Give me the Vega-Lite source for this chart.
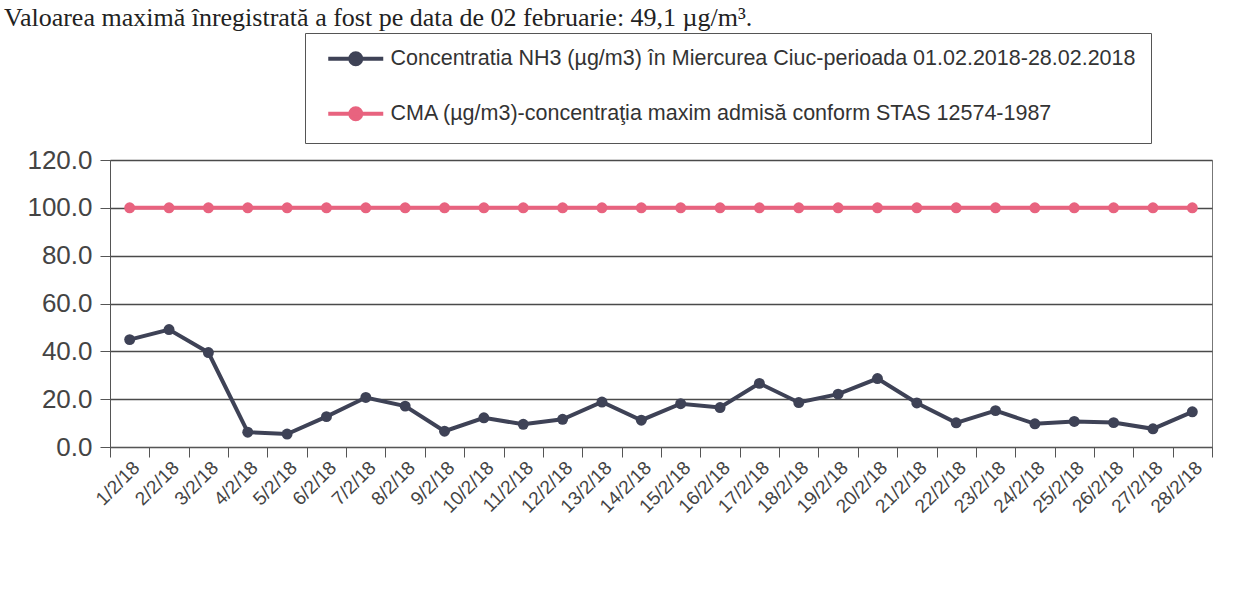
{
  "$schema": "https://vega.github.io/schema/vega-lite/v6.json",
  "width": 1102,
  "height": 287,
  "autosize": {"type": "none"},
  "padding": {"left": 110, "top": 160, "right": 45, "bottom": 142},
  "background": "white",
  "title": {
    "text": "Valoarea maximă înregistrată a fost pe data de 02 februarie: 49,1 µg/m³.",
    "font": "Liberation Serif",
    "fontSize": 26,
    "fontWeight": "normal",
    "color": "#222",
    "anchor": "start",
    "frame": "group",
    "baseline": "alphabetic",
    "offset": 0,
    "dx": -106,
    "dy": 19
  },
  "config": {
    "view": {"stroke": "#777", "strokeWidth": 1},
    "font": "Liberation Sans"
  },
  "data": {
    "values": [
      {"d": "1/2/18", "s": "NH3", "v": 44.9},
      {"d": "2/2/18", "s": "NH3", "v": 49.1},
      {"d": "3/2/18", "s": "NH3", "v": 39.5},
      {"d": "4/2/18", "s": "NH3", "v": 6.2},
      {"d": "5/2/18", "s": "NH3", "v": 5.4},
      {"d": "6/2/18", "s": "NH3", "v": 12.7},
      {"d": "7/2/18", "s": "NH3", "v": 20.7},
      {"d": "8/2/18", "s": "NH3", "v": 17.1},
      {"d": "9/2/18", "s": "NH3", "v": 6.6},
      {"d": "10/2/18", "s": "NH3", "v": 12.2},
      {"d": "11/2/18", "s": "NH3", "v": 9.5},
      {"d": "12/2/18", "s": "NH3", "v": 11.6},
      {"d": "13/2/18", "s": "NH3", "v": 18.8},
      {"d": "14/2/18", "s": "NH3", "v": 11.2},
      {"d": "15/2/18", "s": "NH3", "v": 18.1},
      {"d": "16/2/18", "s": "NH3", "v": 16.5},
      {"d": "17/2/18", "s": "NH3", "v": 26.6},
      {"d": "18/2/18", "s": "NH3", "v": 18.6},
      {"d": "19/2/18", "s": "NH3", "v": 22.1},
      {"d": "20/2/18", "s": "NH3", "v": 28.6},
      {"d": "21/2/18", "s": "NH3", "v": 18.4},
      {"d": "22/2/18", "s": "NH3", "v": 10.1},
      {"d": "23/2/18", "s": "NH3", "v": 15.2},
      {"d": "24/2/18", "s": "NH3", "v": 9.7},
      {"d": "25/2/18", "s": "NH3", "v": 10.7},
      {"d": "26/2/18", "s": "NH3", "v": 10.2},
      {"d": "27/2/18", "s": "NH3", "v": 7.6},
      {"d": "28/2/18", "s": "NH3", "v": 14.7},
      {"d": "1/2/18", "s": "CMA", "v": 100},
      {"d": "2/2/18", "s": "CMA", "v": 100},
      {"d": "3/2/18", "s": "CMA", "v": 100},
      {"d": "4/2/18", "s": "CMA", "v": 100},
      {"d": "5/2/18", "s": "CMA", "v": 100},
      {"d": "6/2/18", "s": "CMA", "v": 100},
      {"d": "7/2/18", "s": "CMA", "v": 100},
      {"d": "8/2/18", "s": "CMA", "v": 100},
      {"d": "9/2/18", "s": "CMA", "v": 100},
      {"d": "10/2/18", "s": "CMA", "v": 100},
      {"d": "11/2/18", "s": "CMA", "v": 100},
      {"d": "12/2/18", "s": "CMA", "v": 100},
      {"d": "13/2/18", "s": "CMA", "v": 100},
      {"d": "14/2/18", "s": "CMA", "v": 100},
      {"d": "15/2/18", "s": "CMA", "v": 100},
      {"d": "16/2/18", "s": "CMA", "v": 100},
      {"d": "17/2/18", "s": "CMA", "v": 100},
      {"d": "18/2/18", "s": "CMA", "v": 100},
      {"d": "19/2/18", "s": "CMA", "v": 100},
      {"d": "20/2/18", "s": "CMA", "v": 100},
      {"d": "21/2/18", "s": "CMA", "v": 100},
      {"d": "22/2/18", "s": "CMA", "v": 100},
      {"d": "23/2/18", "s": "CMA", "v": 100},
      {"d": "24/2/18", "s": "CMA", "v": 100},
      {"d": "25/2/18", "s": "CMA", "v": 100},
      {"d": "26/2/18", "s": "CMA", "v": 100},
      {"d": "27/2/18", "s": "CMA", "v": 100},
      {"d": "28/2/18", "s": "CMA", "v": 100}
    ]
  },
  "encoding": {
    "x": {
      "field": "d",
      "type": "nominal",
      "sort": null,
      "scale": {"type": "band", "paddingInner": 0, "paddingOuter": 0},
      "axis": {
        "title": null,
        "tickBand": "extent",
        "labelAngle": -45,
        "labelFontSize": 19,
        "labelColor": "#444",
        "labelPadding": 1,
        "tickSize": 10,
        "tickColor": "#555",
        "domainColor": "#555",
        "grid": false
      }
    },
    "y": {
      "field": "v",
      "type": "quantitative",
      "scale": {"domain": [0, 120], "nice": false},
      "axis": {
        "title": null,
        "values": [0, 20, 40, 60, 80, 100, 120],
        "format": ".1f",
        "labelFontSize": 26,
        "labelColor": "#444",
        "labelPadding": 8,
        "tickSize": 10,
        "tickColor": "#555",
        "domainColor": "#555",
        "gridColor": "#4a4a4a",
        "gridWidth": 1.4
      }
    },
    "color": {
      "field": "s",
      "type": "nominal",
      "scale": {"domain": ["NH3", "CMA"], "range": ["#3e4256", "#e8637f"]},
      "legend": {
        "title": null,
        "orient": "none",
        "legendX": 195,
        "legendY": -127,
        "direction": "vertical",
        "strokeColor": "#555",
        "fillColor": "white",
        "padding": 15,
        "labelFontSize": 21.5,
        "labelColor": "#333",
        "labelLimit": 0,
        "labelOffset": 49,
        "rowPadding": 27,
        "symbolType": "M-0.5,0H10.5M3.9,0A1.1,1.1,0,1,1,6.1,0A1.1,1.1,0,1,1,3.9,0Z",
        "symbolSize": 100,
        "symbolStrokeWidth": 4,
        "labelExpr": "datum.label == 'NH3' ? 'Concentratia NH3 (µg/m3) în Miercurea Ciuc-perioada 01.02.2018-28.02.2018' : 'CMA (µg/m3)-concentraţia maxim admisă conform STAS 12574-1987'",
        "encode": {
          "symbols": {
            "update": {
              "stroke": {"scale": "color", "field": "value"},
              "fill": {"scale": "color", "field": "value"},
              "opacity": {"value": 1}
            }
          }
        }
      }
    }
  },
  "layer": [
    {"mark": {"type": "line", "strokeWidth": 4}},
    {"mark": {"type": "point", "filled": true, "size": 120, "opacity": 1}}
  ]
}
